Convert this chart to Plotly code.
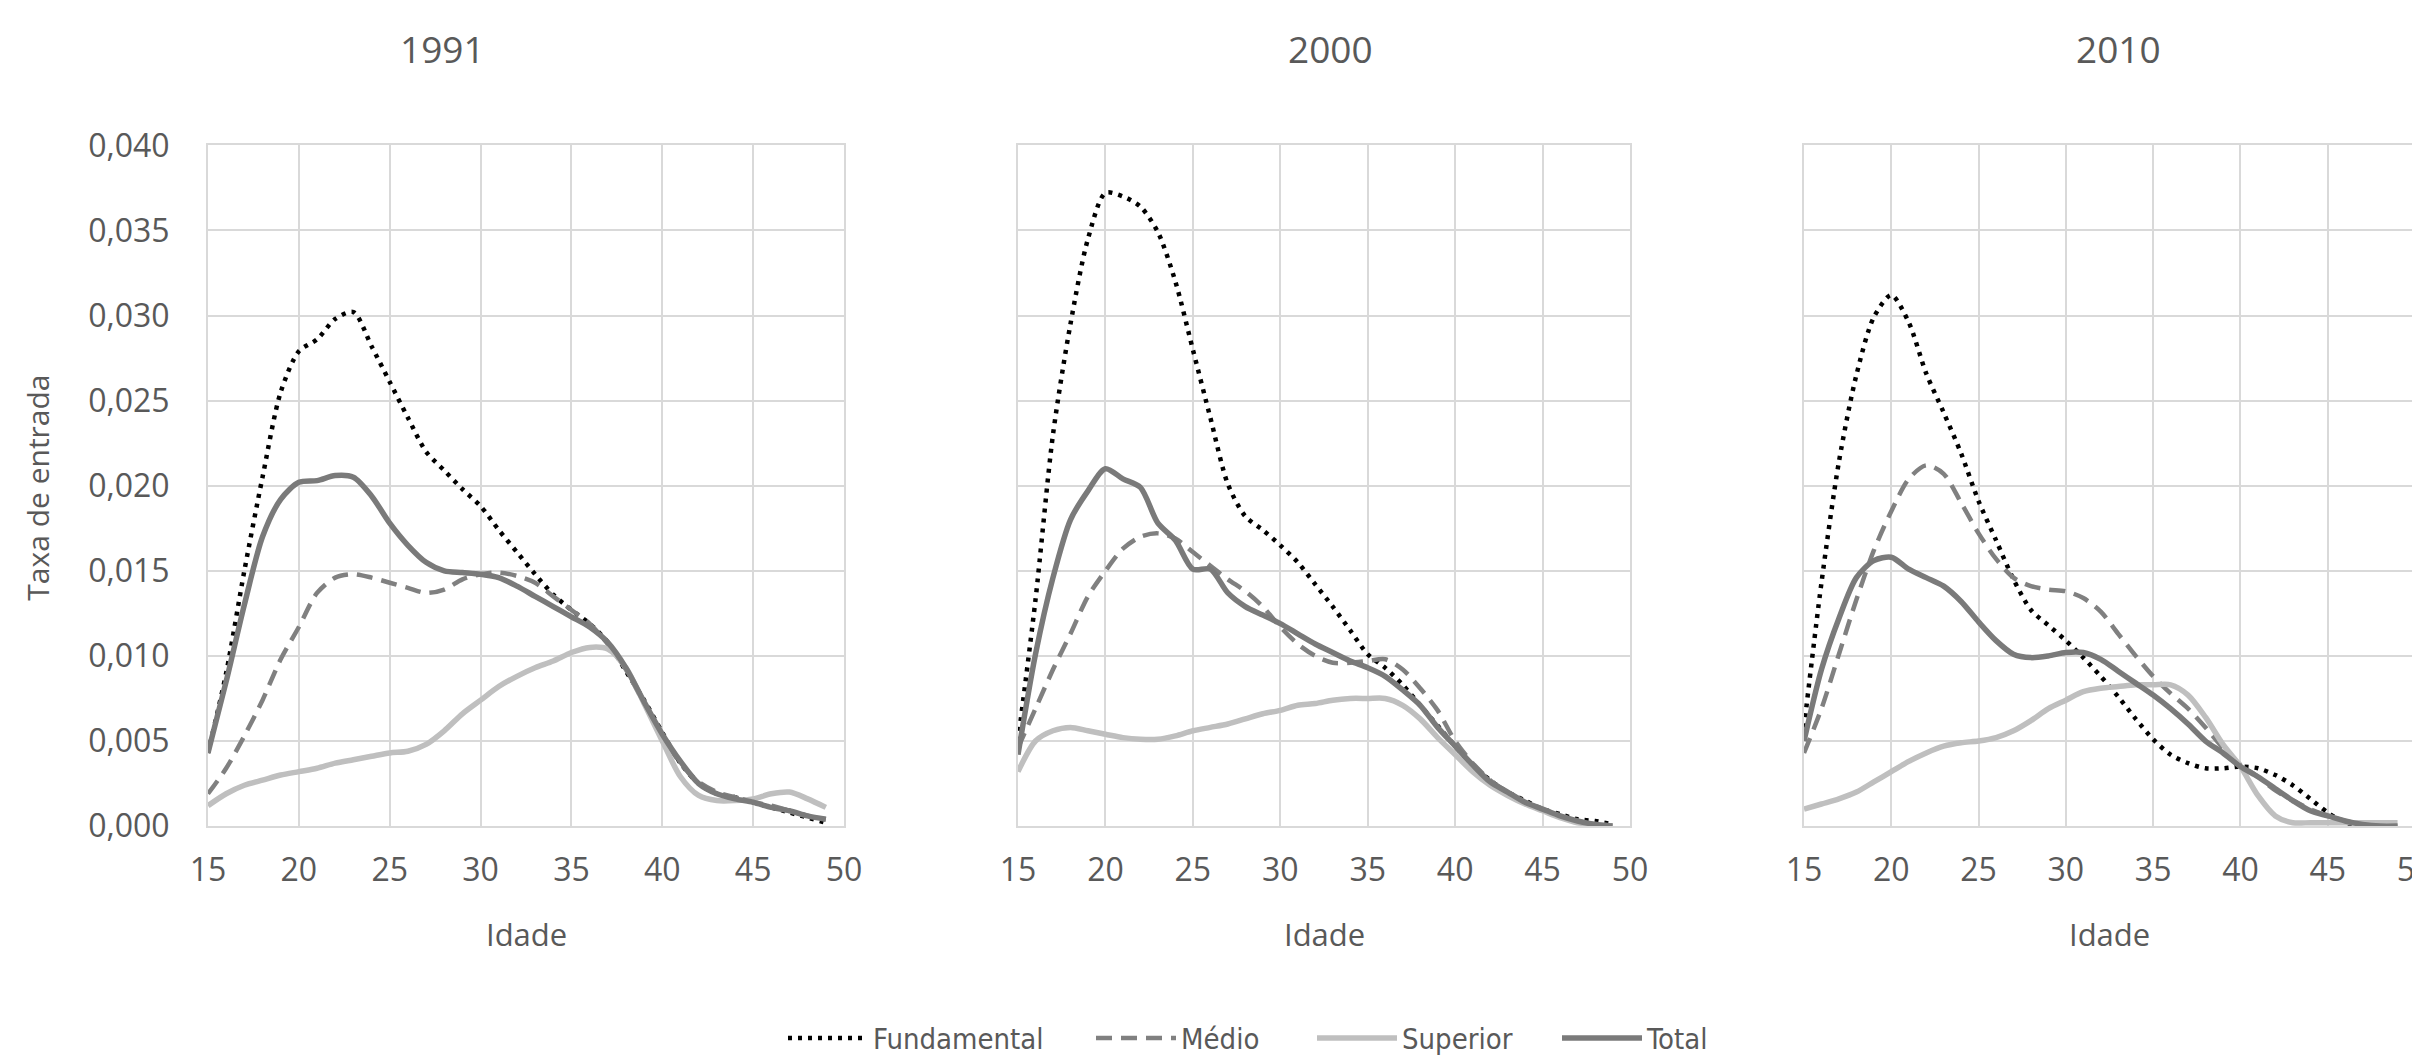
import plotly.graph_objects as go

ages = list(range(15, 50))
years = ["1991", "2000", "2010"]
series_names = ["Fundamental", "Médio", "Superior", "Total"]

fund_1991 = [0.0043, 0.0090, 0.0150, 0.0205, 0.0255, 0.0279, 0.0286, 0.0298, 0.0302, 0.0282,
             0.0261, 0.0240, 0.0220, 0.0209, 0.0198, 0.0188, 0.0174, 0.0161, 0.0148, 0.0136,
             0.0127, 0.0119, 0.0108, 0.0091, 0.0074, 0.0055, 0.0037, 0.0025, 0.0019, 0.0017,
             0.0014, 0.0011, 0.0008, 0.0005, 0.0002]
medio_1991 = [0.0019, 0.0034, 0.0053, 0.0074, 0.0098, 0.0117, 0.0137, 0.0146, 0.0148, 0.0146,
              0.0143, 0.0140, 0.0137, 0.0139, 0.0145, 0.0148, 0.0149, 0.0147, 0.0143, 0.0135,
              0.0127, 0.0119, 0.0107, 0.0092, 0.0072, 0.0053, 0.0037, 0.0026, 0.0020, 0.0017,
              0.0014, 0.0012, 0.0009, 0.0006, 0.0004]
sup_1991 = [0.0012, 0.0019, 0.0024, 0.0027, 0.0030, 0.0032, 0.0034, 0.0037, 0.0039, 0.0041,
            0.0043, 0.0044, 0.0048, 0.0056, 0.0066, 0.0074, 0.0082, 0.0088, 0.0093, 0.0097,
            0.0102, 0.0105, 0.0104, 0.0093, 0.0072, 0.0050, 0.0029, 0.0018, 0.0015, 0.0015,
            0.0016, 0.0019, 0.0020, 0.0016, 0.0011]
total_1991 = [0.0043, 0.0085, 0.0130, 0.0170, 0.0192, 0.0202, 0.0203, 0.0206, 0.0205, 0.0194,
              0.0178, 0.0165, 0.0155, 0.0150, 0.0149, 0.0148, 0.0146, 0.0141, 0.0135, 0.0129,
              0.0123, 0.0117, 0.0108, 0.0093, 0.0073, 0.0054, 0.0038, 0.0025, 0.0019, 0.0016,
              0.0014, 0.0011, 0.0009, 0.0006, 0.0004]

fund_2000 = [0.0050, 0.0133, 0.0230, 0.0295, 0.0345, 0.0372, 0.0370, 0.0364, 0.0349, 0.0320,
             0.0280, 0.0240, 0.0201, 0.0182, 0.0174, 0.0165, 0.0155, 0.0142, 0.0129, 0.0115,
             0.0101, 0.0093, 0.0083, 0.0071, 0.0059, 0.0047, 0.0036, 0.0027, 0.0020, 0.0015,
             0.0010, 0.0007, 0.0004, 0.0003, 0.0001]
medio_2000 = [0.0046, 0.0069, 0.0092, 0.0113, 0.0135, 0.0150, 0.0163, 0.0170, 0.0172, 0.0169,
              0.0161, 0.0153, 0.0145, 0.0138, 0.0129, 0.0117, 0.0107, 0.0100, 0.0096, 0.0096,
              0.0097, 0.0098, 0.0092, 0.0081, 0.0068, 0.0050, 0.0037, 0.0027, 0.0020, 0.0014,
              0.0010, 0.0006, 0.0003, 0.0001, 0.0000]
sup_2000 = [0.0032, 0.0050, 0.0056, 0.0058, 0.0056, 0.0054, 0.0052, 0.0051, 0.0051, 0.0053,
            0.0056, 0.0058, 0.0060, 0.0063, 0.0066, 0.0068, 0.0071, 0.0072, 0.0074, 0.0075,
            0.0075, 0.0075, 0.0071, 0.0063, 0.0052, 0.0042, 0.0032, 0.0024, 0.0018, 0.0013,
            0.0009, 0.0005, 0.0002, 0.0001, 0.0000]
total_2000 = [0.0042, 0.0101, 0.0146, 0.0180, 0.0197, 0.0210, 0.0204, 0.0199, 0.0178, 0.0168,
              0.0151, 0.0151, 0.0137, 0.0129, 0.0124, 0.0119, 0.0113, 0.0107, 0.0102, 0.0097,
              0.0093, 0.0088, 0.0080, 0.0071, 0.0058, 0.0047, 0.0036, 0.0026, 0.0020, 0.0014,
              0.0010, 0.0006, 0.0003, 0.0001, 0.0000]

fund_2010 = [0.0058, 0.0143, 0.0214, 0.0265, 0.0299, 0.0312, 0.0296, 0.0266, 0.0243, 0.0219,
             0.0191, 0.0168, 0.0145, 0.0127, 0.0118, 0.0109, 0.0099, 0.0088, 0.0076, 0.0063,
             0.0051, 0.0042, 0.0037, 0.0034, 0.0034, 0.0035, 0.0034, 0.0030, 0.0024, 0.0016,
             0.0008, 0.0002, 0.0000, None, None]
medio_2010 = [0.0043, 0.0069, 0.0101, 0.0133, 0.0162, 0.0185, 0.0204, 0.0212, 0.0207, 0.0190,
              0.0172, 0.0157, 0.0146, 0.0141, 0.0139, 0.0138, 0.0134, 0.0126, 0.0113, 0.0100,
              0.0088, 0.0078, 0.0069, 0.0058, 0.0046, 0.0036, 0.0029, 0.0021, 0.0015, 0.0010,
              0.0006, 0.0003, 0.0001, 0.0000, 0.0000]
sup_2010 = [0.0010, 0.0013, 0.0016, 0.0020, 0.0026, 0.0032, 0.0038, 0.0043, 0.0047, 0.0049,
            0.0050, 0.0052, 0.0056, 0.0062, 0.0069, 0.0074, 0.0079, 0.0081, 0.0082, 0.0083,
            0.0083, 0.0083, 0.0077, 0.0064, 0.0048, 0.0035, 0.0018, 0.0006, 0.0002, 0.0002,
            0.0002, 0.0002, 0.0002, 0.0002, 0.0002]
total_2010 = [0.0050, 0.0092, 0.0122, 0.0146, 0.0156, 0.0158, 0.0151, 0.0146, 0.0141, 0.0132,
              0.0120, 0.0109, 0.0101, 0.0099, 0.0100, 0.0102, 0.0102, 0.0098, 0.0091, 0.0084,
              0.0077, 0.0069, 0.0060, 0.0050, 0.0043, 0.0035, 0.0029, 0.0022, 0.0015, 0.0009,
              0.0006, 0.0003, 0.0001, 0.0000, 0.0000]

data = {
    "1991": [fund_1991, medio_1991, sup_1991, total_1991],
    "2000": [fund_2000, medio_2000, sup_2000, total_2000],
    "2010": [fund_2010, medio_2010, sup_2010, total_2010],
}

x_ticks = [15, 20, 25, 30, 35, 40, 45, 50]
y_ticks = [0.0, 0.005, 0.010, 0.015, 0.020, 0.025, 0.030, 0.035, 0.040]

styles = [
    dict(color="#000000", width=4.5, dash="4px,6px"),
    dict(color="#808080", width=4.5, dash="16px,9px"),
    dict(color="#bfbfbf", width=5.5, dash="solid"),
    dict(color="#7a7a7a", width=5.5, dash="solid"),
]

W, H = 2420, 1056
panels_px = [(200, 836), (1010, 1622), (1796, 2407)]
y_top, y_bot = 138, 822
title_x = [434, 1322, 2110]
legend_left_px = [775, 1083, 1304, 1549]
legend_ids = ["legend", "legend2", "legend3", "legend4"]

fig = go.Figure()
FONT = "Open Sans"
TXT = "#595959"
GRID = "#d9d9d9"

for p, yr in enumerate(years):
    xa = "x" if p == 0 else f"x{p+1}"
    ya = "y" if p == 0 else f"y{p+1}"
    for k in [0, 1, 2, 3]:
        fig.add_trace(go.Scatter(
            x=ages, y=data[yr][k], mode="lines", name=series_names[k],
            line=dict(color=styles[k]["color"], width=styles[k]["width"],
                      dash=styles[k]["dash"], shape="spline", smoothing=0.8),
            xaxis=xa, yaxis=ya, showlegend=(p == 0), legend=legend_ids[k],
            connectgaps=False,
        ))

layout = dict(
    width=W, height=H,
    margin=dict(l=0, r=0, t=0, b=0),
    paper_bgcolor="white", plot_bgcolor="white",
    separators=",.",
    font=dict(family=FONT, color=TXT, size=32),
    showlegend=True,
)
for k, lid in enumerate(legend_ids):
    layout[lid] = dict(orientation="h", x=legend_left_px[k] / W, xanchor="left",
                       y=(H - 1035) / H, yanchor="middle", itemwidth=80,
                       bgcolor="rgba(0,0,0,0)",
                       font=dict(family="DejaVu Sans Condensed, Open Sans", size=29, color=TXT))

for p in range(3):
    x0, x1 = panels_px[p]
    xk = "xaxis" if p == 0 else f"xaxis{p+1}"
    yk = "yaxis" if p == 0 else f"yaxis{p+1}"
    layout[xk] = dict(
        domain=[x0 / W, x1 / W], range=[15, 50], tickvals=x_ticks,
        showgrid=True, gridcolor=GRID, gridwidth=2,
        showline=True, linecolor=GRID, linewidth=2, mirror=True,
        zeroline=False, ticks="", ticklabelstandoff=14,
        ticklabeloverflow="allow",
        tickfont=dict(size=32, color=TXT, family=FONT),
        anchor="y" if p == 0 else f"y{p+1}", automargin=False,
    )
    layout[yk] = dict(
        domain=[(H - y_bot) / H, (H - y_top) / H], range=[0, 0.040], tickvals=y_ticks,
        tickformat=".3f", showgrid=True, gridcolor=GRID, gridwidth=2,
        showline=True, linecolor=GRID, linewidth=2, mirror=True,
        zeroline=False, ticks="", ticklabelstandoff=30,
        showticklabels=(p == 0),
        tickfont=dict(size=32, color=TXT, family=FONT),
        anchor="x" if p == 0 else f"x{p+1}", automargin=False,
    )

fig.update_layout(**layout)

annotations = []
for p, yr in enumerate(years):
    annotations.append(dict(text=yr, x=title_x[p] / W, y=(H - 41) / H, xref="paper", yref="paper",
                            showarrow=False, xanchor="center", yanchor="middle",
                            font=dict(size=37, color=TXT, family=FONT)))
    x0, x1 = panels_px[p]
    annotations.append(dict(text="Idade", x=(x0 + x1) / 2 / W, y=(H - 930) / H, xref="paper", yref="paper",
                            showarrow=False, xanchor="center", yanchor="middle",
                            font=dict(size=31, color=TXT, family=FONT)))
annotations.append(dict(text="Taxa de entrada", x=30 / W, y=(H - 482) / H, xref="paper", yref="paper",
                        showarrow=False, xanchor="center", yanchor="middle", textangle=-90,
                        font=dict(size=30, color=TXT, family=FONT)))
fig.update_layout(annotations=annotations)

fig.write_html("out.html")
